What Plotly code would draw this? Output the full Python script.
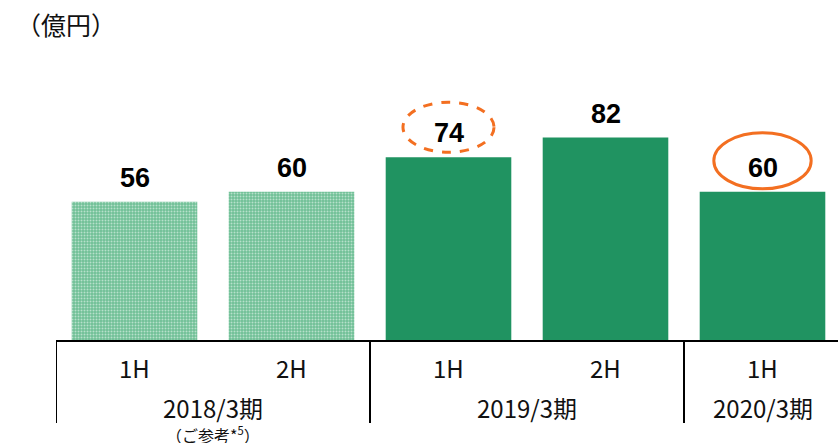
import plotly.graph_objects as go

halves = ["1H", "2H", "1H", "2H", "1H"]
values = [56, 60, 74, 82, 60]
reference_flags = [True, True, False, False, False]
groups = ["2018/3期", "2019/3期", "2020/3期"]
group_centers = [0.5, 2.5, 4]
group_bounds = [-0.5, 1.5, 3.5]
unit_title = "（億円）"
note = "（ご参考*<sup>5</sup>）"
dashed_idx = 2
solid_idx = 4

GREEN = "#209361"
ORANGE = "#F36F21"
PX_PER_UNIT = 280 / 113.4

fig = go.Figure()
xs = list(range(len(values)))
ref_x = [x for x, f in zip(xs, reference_flags) if f]
ref_y = [v for v, f in zip(values, reference_flags) if f]
act_x = [x for x, f in zip(xs, reference_flags) if not f]
act_y = [v for v, f in zip(values, reference_flags) if not f]

fig.add_trace(go.Bar(
    x=ref_x, y=ref_y, width=0.8,
    marker=dict(color="#8fd0ae", line=dict(width=0),
                pattern=dict(shape=".", fgcolor="#ffffff", bgcolor="#6fc096",
                             size=3, solidity=0.35)),
    hoverinfo="skip"))
fig.add_trace(go.Bar(
    x=act_x, y=act_y, width=0.8,
    marker=dict(color=GREEN, line=dict(width=0)),
    hoverinfo="skip"))

annotations = []
for x, v in zip(xs, values):
    annotations.append(dict(x=x, y=v, xref="x", yref="y", text=f"<b>{v}</b>",
                            showarrow=False, yanchor="bottom", yshift=7,
                            font=dict(family="Liberation Sans, Arial", size=27, color="#000")))
for x, h in zip(xs, halves):
    annotations.append(dict(x=x, y=0, xref="x", yref="paper", text=h, showarrow=False,
                            yanchor="middle", yshift=-27,
                            font=dict(family="Noto Sans CJK JP", size=24, color="#111")))
for c, g in zip(group_centers, groups):
    annotations.append(dict(x=c, y=0, xref="x", yref="paper", text=g, showarrow=False,
                            yanchor="middle", yshift=-67,
                            font=dict(family="Noto Sans CJK JP", size=24, color="#111")))
annotations.append(dict(x=group_centers[0], y=0, xref="x", yref="paper", text=note,
                        showarrow=False, yanchor="middle", yshift=-94,
                        font=dict(family="Noto Sans CJK JP", size=16, color="#111")))
annotations.append(dict(x=(14 - 56) / 782, y=1 + (60 - 24) / 280, xref="paper", yref="paper",
                        text=unit_title, showarrow=False, xanchor="left", yanchor="middle",
                        font=dict(family="Noto Sans CJK JP", size=25, color="#111")))

shapes = []
for b in group_bounds:
    shapes.append(dict(type="line", xref="x", yref="paper", x0=b, x1=b, y0=0,
                       y1=-(83 / 280), line=dict(color="#000", width=2)))

def ellipse(idx, off, hh, hw, dash):
    cy = values[idx] + off
    return dict(type="circle", xref="x", yref="y",
                x0=idx - hw, x1=idx + hw, y0=cy - hh, y1=cy + hh,
                line=dict(color=ORANGE, width=3, dash=dash))

shapes.append(ellipse(dashed_idx, 30 / PX_PER_UNIT, 25 / PX_PER_UNIT, 0.29, "dash"))
shapes.append(ellipse(solid_idx, 31 / PX_PER_UNIT, 28 / PX_PER_UNIT, 0.31, "solid"))

fig.update_layout(
    width=838, height=443,
    margin=dict(l=56, r=0, t=60, b=103),
    paper_bgcolor="white", plot_bgcolor="white",
    showlegend=False, bargap=0.2,
    xaxis=dict(range=[-0.5, -0.5 + 782 / 157], showticklabels=False, ticks="",
               showgrid=False, zeroline=False, showline=True, linecolor="#000",
               linewidth=2, fixedrange=True),
    yaxis=dict(range=[0, 113.4], visible=False, fixedrange=True),
    annotations=annotations, shapes=shapes,
)

fig.write_html("out.html", config={"displayModeBar": False},
               post_script="document.body.style.margin='0';")
